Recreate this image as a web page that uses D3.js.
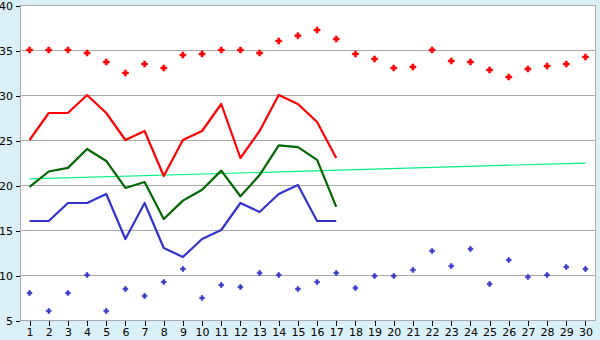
<!DOCTYPE html>
<html><head><meta charset="utf-8">
<script src="https://cdn.jsdelivr.net/npm/d3@7"></script>
<style>html,body{margin:0;padding:0;background:#d9f0f7;}svg{display:block;}</style>
</head><body>
<svg id="c" width="600" height="340"></svg>
<script>
const days = d3.range(1, 31);
const yTicks = [5, 10, 15, 20, 25, 30, 35, 40];
const maxDots = [35, 35, 35, 34.67, 33.67, 32.44, 33.44, 33.0, 34.44, 34.56, 35, 35, 34.67, 36.0, 36.59, 37.22, 36.22, 34.56, 34.0, 33.0, 33.11, 35, 33.78, 33.67, 32.78, 32.0, 32.89, 33.22, 33.44, 34.22];
const minDots = [8, 6, 8, 10, 6, 8.44, 7.67, 9.22, 10.67, 7.44, 8.89, 8.67, 10.22, 10, 8.44, 9.22, 10.22, 8.56, 9.89, 9.89, 10.56, 12.67, 11, 12.89, 9, 11.67, 9.78, 10, 10.89, 10.67];
const highLine = [25, 28, 28, 30, 28, 25, 26, 21, 25, 26, 29, 23, 26, 30, 29, 27, 23];
const meanLine = [19.78, 21.5, 21.9, 24.0, 22.67, 19.67, 20.33, 16.22, 18.26, 19.48, 21.6, 18.75, 21.1, 24.4, 24.2, 22.8, 17.56];
const lowLine = [16, 16, 18, 18, 19, 14, 18, 13, 12, 14, 15, 18, 17, 19, 20, 16, 16];
const trendDays = [1, 30];
const trendValues = [20.67, 22.44];

const svg = d3.select("#c");
const L = 20, R = 595, T = 5, B = 320;
const x = d3.scaleBand().domain(days).range([L, R]).padding(0);
const cx = d => x(d) + x.bandwidth() / 2;
const y = d3.scaleLinear().domain([5, 40]).range([B, T]);

svg.append("rect").attr("x", L).attr("y", T).attr("width", R - L).attr("height", B - T).attr("fill", "#fff");

// grid
svg.append("g").selectAll("line").data(yTicks).join("line")
  .attr("x1", L).attr("x2", R)
  .attr("y1", d => Math.round(y(d)) + 0.5).attr("y2", d => Math.round(y(d)) + 0.5)
  .attr("stroke", "#aaaaaa").attr("stroke-width", 1).attr("shape-rendering", "crispEdges");
// right border & left axis
svg.append("line").attr("x1", R + 0.5).attr("x2", R + 0.5).attr("y1", T).attr("y2", B + 1)
  .attr("stroke", "#aaaaaa").attr("shape-rendering", "crispEdges");
svg.append("line").attr("x1", L + 0.5).attr("x2", L + 0.5).attr("y1", T).attr("y2", B + 1)
  .attr("stroke", "#aaaaaa").attr("shape-rendering", "crispEdges");

// y axis
const yAxis = d3.axisLeft(y).tickValues(yTicks).tickSize(4).tickPadding(3).tickFormat(d3.format("d"));
const gy = svg.append("g").attr("transform", `translate(${L},0.5)`).call(yAxis);
gy.select(".domain").remove();
gy.selectAll(".tick line").attr("stroke", "#000").attr("shape-rendering", "crispEdges");
gy.selectAll("text").attr("font-family", "DejaVu Sans").attr("font-size", 11).attr("fill", "#000");

// x axis
const xAxis = d3.axisBottom(x).tickSize(5).tickPadding(3);
const gx = svg.append("g").attr("transform", `translate(0.5,${B + 0.5})`).call(xAxis);
gx.select(".domain").remove();
gx.selectAll(".tick line").attr("stroke", "#000").attr("shape-rendering", "crispEdges");
gx.selectAll("text").attr("font-family", "DejaVu Sans").attr("font-size", 11).attr("fill", "#000");

// trend line
svg.append("path")
  .datum(trendDays.map((d, i) => [d, trendValues[i]]))
  .attr("d", d3.line().x(d => cx(d[0])).y(d => y(d[1])))
  .attr("fill", "none").attr("stroke", "#00f080").attr("stroke-width", 1.2);

function drawLine(vals, color) {
  svg.append("path")
    .datum(vals.map((v, i) => [days[i], v]))
    .attr("d", d3.line().x(d => cx(d[0])).y(d => y(d[1])))
    .attr("fill", "none").attr("stroke", color).attr("stroke-width", 2.2)
    .attr("stroke-linejoin", "round");
}
drawLine(highLine, "#ff0000");
drawLine(meanLine, "#006600");
drawLine(lowLine, "#3333cc");

function drawDots(vals, color, size) {
  svg.append("g").selectAll("path").data(vals.map((v, i) => [days[i], v])).join("path")
    .attr("transform", d => `translate(${cx(d[0])},${y(d[1])})`)
    .attr("d", d3.symbol(d3.symbolCross, size))
    .attr("fill", color).attr("stroke", color).attr("stroke-width", 0.6);
}
drawDots(maxDots, "#ff0000", 20);
drawDots(minDots, "#3333cc", 13);
</script>
</body></html>
